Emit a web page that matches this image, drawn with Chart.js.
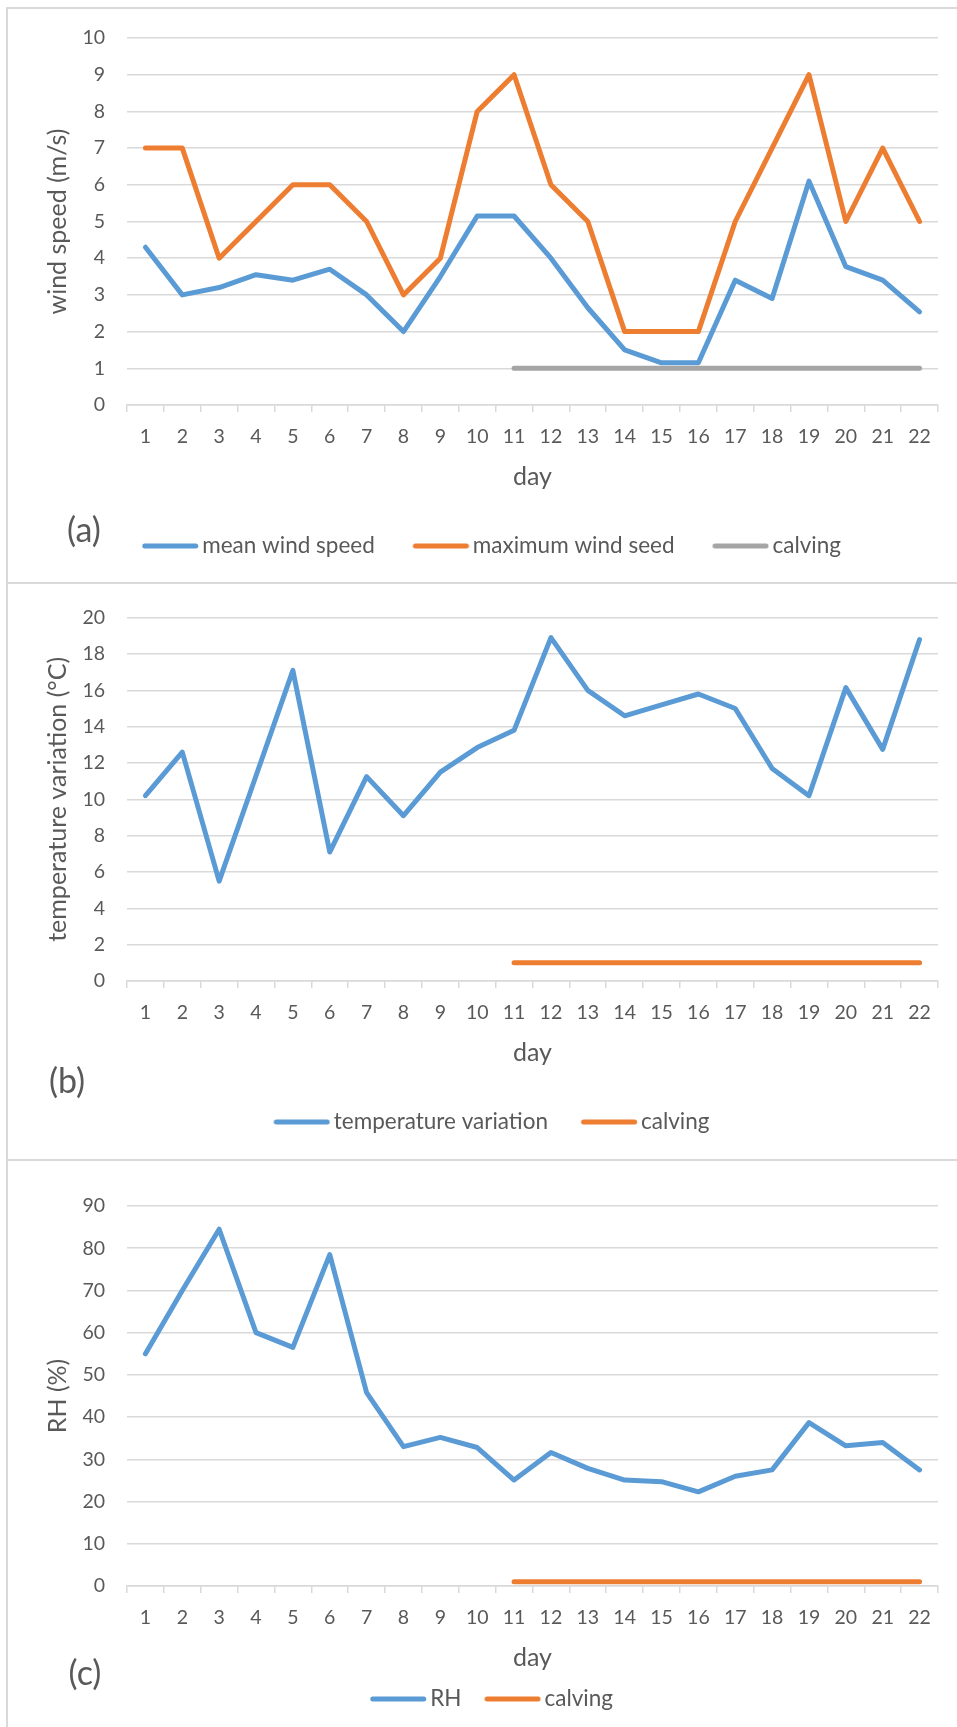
<!DOCTYPE html>
<html><head><meta charset="utf-8">
<script src="https://cdn.jsdelivr.net/npm/chart.js@4.4.1/dist/chart.umd.min.js"></script>
<style>
html,body{margin:0;padding:0;background:#fff;overflow:hidden;width:957px;height:1727px;position:relative;}
.panel{position:absolute;left:6px;width:1000px;height:1000px;border-left:2px solid #d9d9d9;border-top:2px solid #d9d9d9;}
canvas{position:absolute;left:0;}
.tag{position:absolute;font-family:Lato;font-size:34px;color:#595959;line-height:1;transform:translate(-50%,-50%);white-space:nowrap;}
</style></head><body>
<div class="panel" style="top:7px"></div>
<div class="panel" style="top:582px"></div>
<div class="panel" style="top:1159px"></div>
<canvas id="ca" width="957" height="584" style="top:0px"></canvas>
<canvas id="cb" width="957" height="576" style="top:584px"></canvas>
<canvas id="cc" width="957" height="567" style="top:1160px"></canvas>
<div class="tag" style="left:84px;top:529px">(a)</div>
<div class="tag" style="left:67px;top:1080px">(b)</div>
<div class="tag" style="left:85px;top:1672px">(c)</div>
<script>
const days = ['1','2','3','4','5','6','7','8','9','10','11','12','13','14','15','16','17','18','19','20','21','22'];

const meanWind = [4.3, 3.0, 3.2, 3.55, 3.4, 3.7, 3.0, 2.0, 3.5, 5.15, 5.15, 4.0, 2.65, 1.5, 1.15, 1.15, 3.4, 2.9, 6.1, 3.77, 3.4, 2.54];
const maxWind = [7, 7, 4, 5, 6, 6, 5, 3, 4, 8, 9, 6, 5, 2, 2, 2, 5, 7, 9, 5, 7, 5];
const calvingA = [null, null, null, null, null, null, null, null, null, null, 1, 1, 1, 1, 1, 1, 1, 1, 1, 1, 1, 1];

const tempVar = [10.2, 12.6, 5.5, 11.3, 17.1, 7.1, 11.25, 9.1, 11.5, 12.85, 13.8, 18.9, 16.0, 14.6, 15.2, 15.8, 15.0, 11.7, 10.2, 16.15, 12.75, 18.8];
const calvingB = [null, null, null, null, null, null, null, null, null, null, 1, 1, 1, 1, 1, 1, 1, 1, 1, 1, 1, 1];

const rh = [55, 70, 84.5, 60, 56.5, 78.5, 45.8, 33.0, 35.2, 32.8, 25.1, 31.6, 27.85, 25.1, 24.7, 22.3, 26.0, 27.5, 38.7, 33.2, 34.0, 27.5];
const calvingC = [null, null, null, null, null, null, null, null, null, null, 1, 1, 1, 1, 1, 1, 1, 1, 1, 1, 1, 1];

const BLUE = '#5B9BD5', ORANGE = '#ED7D31', GRAY = '#A5A5A5';
const TXT = '#595959', GRID = '#d9d9d9';

// legend swatch: a short thick line, drawn slightly right of the legend box centre
function swatch(color) {
  const c = document.createElement('canvas');
  c.width = 66; c.height = 8;
  const g = c.getContext('2d');
  g.strokeStyle = color; g.lineWidth = 5; g.lineCap = 'round';
  g.beginPath(); g.moveTo(11.75, 4); g.lineTo(62.75, 4); g.stroke();
  return c;
}

function ds(label, data, color, order) {
  return {label, data, borderColor: color, backgroundColor: color, borderWidth: 5,
    pointRadius: 0, pointHoverRadius: 0, pointStyle: swatch(color), tension: 0,
    borderCapStyle: 'round', borderJoinStyle: 'round', order};
}

function build(id, datasets, yMax, yStep, yTitle, L) {
  return new Chart(document.getElementById(id), {
    type: 'line',
    data: {labels: days, datasets},
    options: {
      responsive: false, animation: false, devicePixelRatio: 1,
      layout: {padding: {left: 44, right: 19, top: L.T, bottom: L.pb}},
      plugins: {
        legend: {position: 'bottom',
          labels: {usePointStyle: true, pointStyleWidth: 50, padding: L.lp,
            color: TXT, font: {family: 'Lato', size: 22.5},
            sort: (a, b) => a.datasetIndex - b.datasetIndex}},
        tooltip: {enabled: false}
      },
      scales: {
        x: {type: 'category', offset: true,
          grid: {offset: true, drawOnChartArea: false, drawTicks: true, tickLength: 7, color: GRID, lineWidth: 1.5},
          border: {display: true, color: GRID, width: 1.5},
          ticks: {color: TXT, font: {family: 'Lato', size: 19.5}, padding: 13, autoSkip: false, maxRotation: 0},
          title: {display: true, text: 'day', color: TXT, font: {family: 'Lato', size: 25, lineHeight: 0.2}, padding: {top: 0, bottom: L.dp}},
          afterFit: s => { s.height = L.xh; }
        },
        y: {min: 0, max: yMax,
          ticks: {stepSize: yStep, color: TXT, font: {family: 'Lato', size: 19.5}, padding: 22},
          grid: {drawTicks: false, color: GRID, lineWidth: 1.5},
          border: {display: false},
          title: {display: true, text: yTitle, color: TXT, font: {family: 'Lato', size: 25, lineHeight: 0.2}, padding: {top: 11.5, bottom: 0}},
          afterFit: s => { s.width = 83; }
        }
      }
    }
  });
}

build('ca', [
  ds('mean wind speed', meanWind, BLUE, 3),
  ds('maximum wind seed', maxWind, ORANGE, 2),
  ds('calving', calvingA, GRAY, 1)
], 10, 1, 'wind speed (m/s)', {T: 38, xh: 93, dp: 18.5, lp: 36.75, pb: 16.75});

build('cb', [
  ds('temperature variation', tempVar, BLUE, 2),
  ds('calving', calvingB, ORANGE, 1)
], 20, 2, 'temperature variation (°C)', {T: 29, xh: 98, dp: 23.5, lp: 31.75, pb: 16.75});

build('cc', [
  ds('RH', rh, BLUE, 2),
  ds('calving', calvingC, ORANGE, 1)
], 90, 10, 'RH (%)', {T: 46, xh: 80, dp: 5.5, lp: 21.75, pb: 6.75});
</script>
</body></html>
